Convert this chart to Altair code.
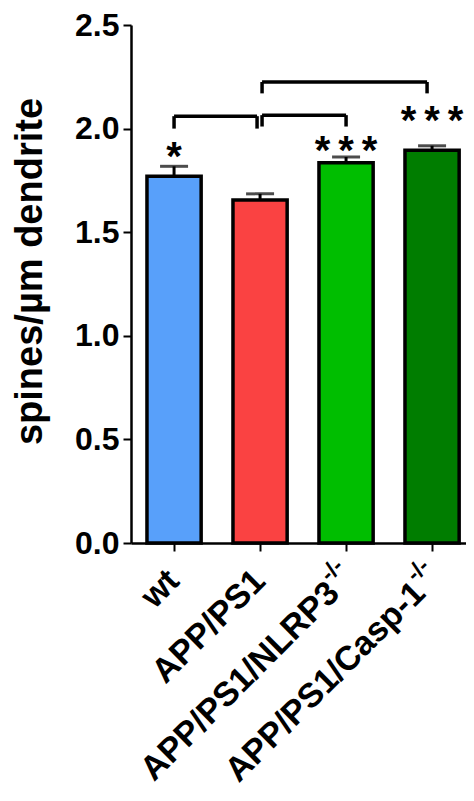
import altair as alt
import pandas as pd

# ---- data ----
groups = ["wt", "APP/PS1", "APP/PS1/NLRP3", "APP/PS1/Casp-1"]
sup_text = ["", "", "-/-", "-/-"]
means = [1.77, 1.655, 1.835, 1.895]
sems = [0.048, 0.03, 0.028, 0.022]
colors = ["#58A0FA", "#FA4242", "#00BE00", "#007D00"]
stars = ["*", "", "*\u2009*\u2009*", "*\u2009*\u2009*"]
star_y = [1.80, None, 1.83, 1.975]

br_left = ["wt", "APP/PS1", "APP/PS1"]
br_right = ["APP/PS1", "APP/PS1/NLRP3", "APP/PS1/Casp-1"]
br_top = [2.06, 2.065, 2.225]
br_bottom = [2.0, 2.01, 2.17]

y_ticks = [0.0, 0.5, 1.0, 1.5, 2.0, 2.5]
y_title = "spines/µm dendrite"

# ---- layout / style ----
W, H = 335, 518
FONT = "Liberation Sans"
leg_dx = [(0, -3), (2, 0), (2, -5)]

df = pd.DataFrame({
    "grp": groups,
    "mean": means,
    "upper": [m + s for m, s in zip(means, sems)],
    "main": groups,
    "sup": sup_text,
})
df_star = pd.DataFrame({"grp": groups, "star": stars, "sy": star_y}).dropna()

xscale = alt.Scale(domain=groups, paddingInner=0.37, paddingOuter=0.1326, align=0.70)
yscale = alt.Scale(domain=[0, 2.5], nice=False, zero=True)

xaxis = alt.Axis(labels=False, title=None, ticks=True, tickSize=8, tickWidth=2,
                 tickColor="black", domainColor="black", domainWidth=2.5, grid=False)
yaxis = alt.Axis(values=y_ticks, format=".1f", grid=False,
                 labelFont=FONT, labelFontSize=32, labelFontWeight="bold",
                 labelColor="black", labelPadding=4,
                 tickSize=8, tickWidth=2, tickColor="black",
                 domainColor="black", domainWidth=2.5,
                 title=y_title, titleFont=FONT, titleFontSize=38,
                 titleFontWeight="bold", titleColor="black",
                 titleAngle=270, titleX=-101, titleY=246,
                 titleAlign="center", titleBaseline="middle")


def X(field, **kw):
    return alt.X(field, scale=xscale, axis=xaxis, **kw)


def Y(field):
    return alt.Y(field, scale=yscale, axis=yaxis)


base = alt.Chart(df)

bars = base.mark_bar(stroke="black", strokeWidth=3.5).encode(
    x=X("grp:N"),
    y=Y("mean:Q"),
    color=alt.Color("grp:N", scale=alt.Scale(domain=groups, range=colors), legend=None),
)

err_line = base.mark_rule(color="black", strokeWidth=3).encode(
    x=X("grp:N"), y=Y("mean:Q"), y2="upper:Q",
)
err_cap = base.mark_tick(color="black", orient="horizontal", size=28, thickness=3).encode(
    x=X("grp:N"), y=Y("upper:Q"),
)

star_layer = alt.Chart(df_star).mark_text(
    font=FONT, fontSize=40, fontWeight="bold", color="black", align="center",
    baseline="alphabetic"
).encode(
    x=X("grp:N"), y=Y("sy:Q"), text="star:N",
)

layers = [err_line, err_cap, bars, star_layer]

for i in range(len(br_left)):
    d = pd.DataFrame({"l": [br_left[i]], "r": [br_right[i]],
                      "top": [br_top[i]], "bot": [br_bottom[i]]})
    dl, dr = leg_dx[i]
    c = alt.Chart(d)
    hline = c.mark_rule(color="black", strokeWidth=3.5, xOffset=dl, x2Offset=dr).encode(
        x=X("l:N", bandPosition=0.5),
        x2=alt.X2("r:N", bandPosition=0.5),
        y=Y("top:Q"),
    )
    lleg = c.mark_rule(color="black", strokeWidth=3.5, xOffset=dl).encode(
        x=X("l:N"), y=Y("bot:Q"), y2="top:Q",
    )
    rleg = c.mark_rule(color="black", strokeWidth=3.5, xOffset=dr).encode(
        x=X("r:N"), y=Y("bot:Q"), y2="top:Q",
    )
    layers += [hline, lleg, rleg]

label_y = H + 33
plain_lbl = base.transform_filter("datum.sup == ''").mark_text(
    font=FONT, fontSize=34, fontWeight="bold", color="black",
    angle=315, align="right", baseline="middle"
).encode(
    x=X("grp:N"), y=alt.value(label_y), text="main:N",
)
sup_main = base.transform_filter("datum.sup != ''").mark_text(
    font=FONT, fontSize=34, fontWeight="bold", color="black",
    angle=315, align="right", baseline="middle", dx=-17
).encode(
    x=X("grp:N"), y=alt.value(label_y), text="main:N",
)
sup_part = base.transform_filter("datum.sup != ''").mark_text(
    font=FONT, fontSize=23, fontWeight="bold", color="black",
    angle=315, align="right", baseline="middle", dx=5, dy=-14
).encode(
    x=X("grp:N"), y=alt.value(label_y), text="sup:N",
)
layers += [plain_lbl, sup_main, sup_part]

chart = alt.layer(*layers).properties(
    width=W, height=H,
    padding={"left": 123, "top": 17, "right": 0, "bottom": 250},
    autosize=alt.AutoSizeParams(type="none"),
).configure_view(stroke=None)

chart.save("out.html", embed_options={"renderer": "svg", "actions": False})
